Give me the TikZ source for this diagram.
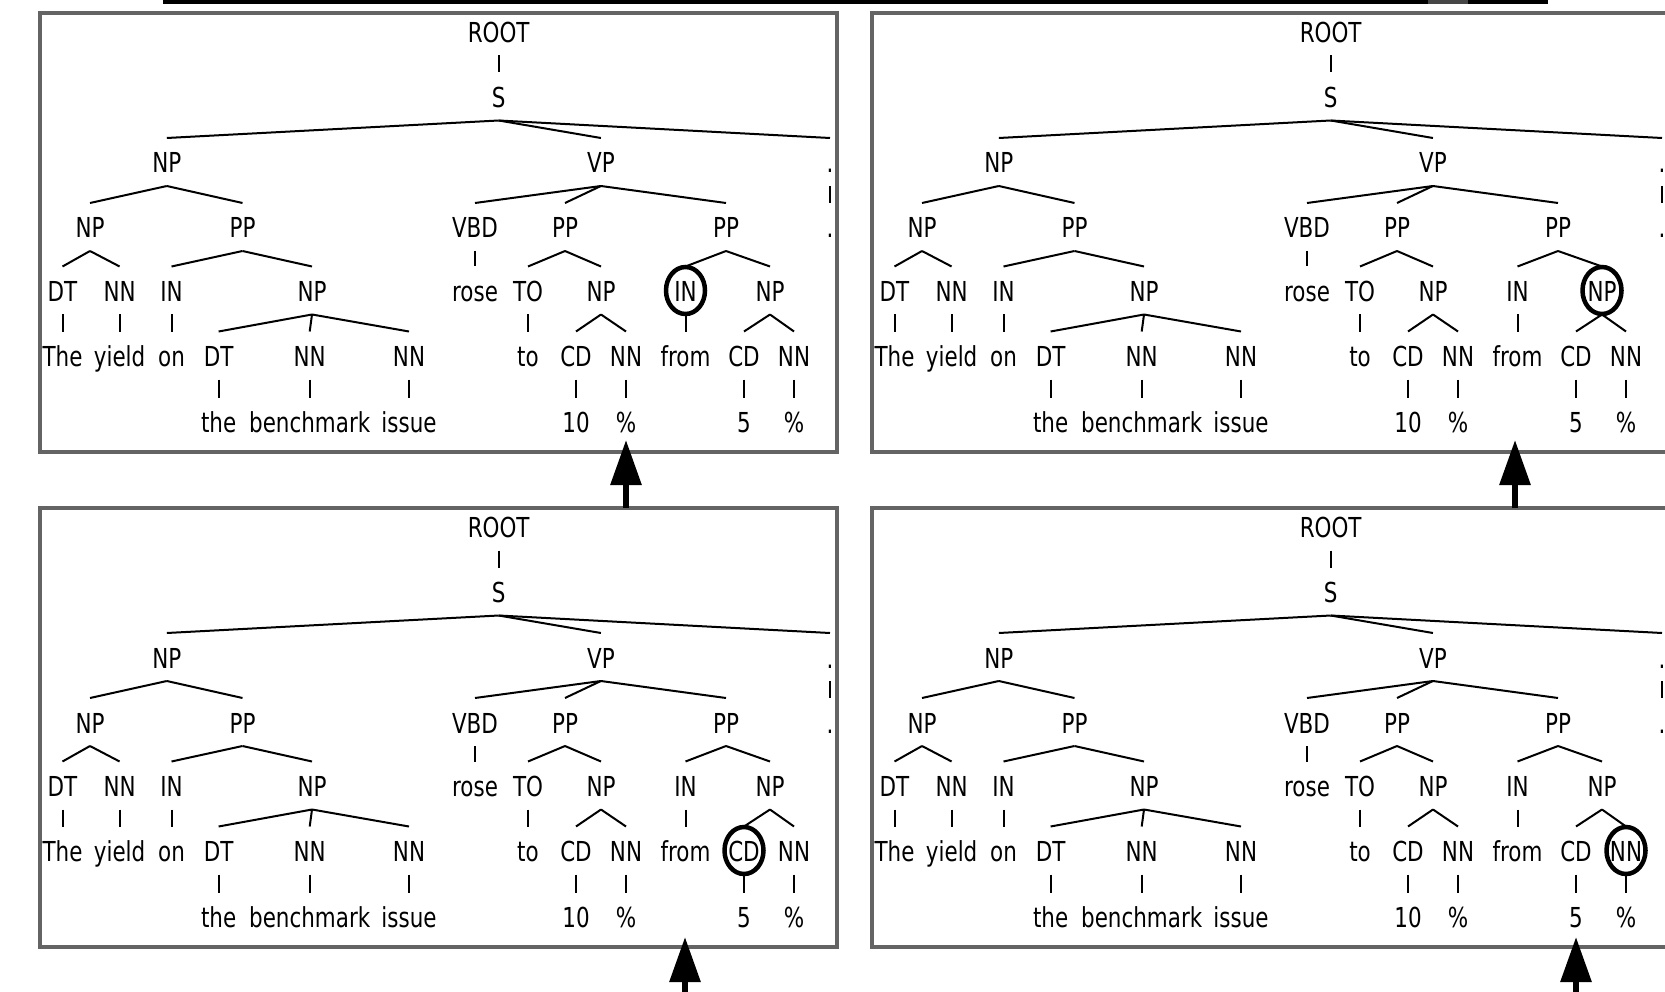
\documentclass[tikz,border=0pt]{standalone}
\usepackage{fontspec}
\newfontfamily\treefont[FakeStretch=0.78]{DejaVu Sans}
\usetikzlibrary{arrows.meta,shapes.geometric}
\definecolor{panelgray}{RGB}{100,100,100}
\definecolor{bargray}{RGB}{70,70,70}
\tikzset{
  lbl/.style={font=\treefont\fontsize{27.5}{30}\selectfont, anchor=base,
    inner xsep=0pt, inner ysep=0pt, outer xsep=0pt, outer ysep=13pt,
    text height=22pt, text depth=0pt},
  branch/.style={line width=2pt, black},
  panel/.style={line width=4pt, draw=panelgray},
  hl/.style={ellipse, draw=black, line width=4.5pt, inner sep=0pt,
    minimum width=39pt, minimum height=47pt},
  ptr/.style={line width=6pt, black, -{Triangle[width=30pt,length=45pt]}}
}
\newcommand\parsetree[1]{%
  \node[lbl] (#1root) at (498.7,42.5) {ROOT};
  \node[lbl] (#1s) at (498.7,107.5) {S};
  % level 2
  \node[lbl] (#1np) at (166.8,173) {NP};
  \node[lbl] (#1vp) at (600.9,173) {VP};
  \node[lbl] (#1dot) at (830,173) {.};
  % level 3
  \node[lbl] (#1npa) at (90,238) {NP};
  \node[lbl] (#1ppa) at (242.5,238) {PP};
  \node[lbl] (#1vbd) at (475,238) {VBD};
  \node[lbl] (#1ppb) at (565,238) {PP};
  \node[lbl] (#1ppc) at (726,238) {PP};
  \node[lbl] (#1dotw) at (830,238) {.};
  % level 4
  \node[lbl] (#1dta) at (62.5,301.5) {DT};
  \node[lbl] (#1nna) at (119.6,301.5) {NN};
  \node[lbl] (#1ina) at (171.5,301.5) {IN};
  \node[lbl] (#1npb) at (312,301.5) {NP};
  \node[lbl] (#1rose) at (475,301.5) {rose};
  \node[lbl] (#1to) at (528,301.5) {TO};
  \node[lbl] (#1npc) at (601,301.5) {NP};
  \node[lbl] (#1inb) at (685.5,301.5) {IN};
  \node[lbl] (#1npd) at (770,301.5) {NP};
  % level 5
  \node[lbl] (#1the) at (62.5,366.5) {The};
  \node[lbl] (#1yield) at (119.6,366.5) {yield};
  \node[lbl] (#1on) at (171.5,366.5) {on};
  \node[lbl] (#1dtb) at (218.6,366.5) {DT};
  \node[lbl] (#1nnb) at (309.7,366.5) {NN};
  \node[lbl] (#1nnc) at (409,366.5) {NN};
  \node[lbl] (#1tow) at (528,366.5) {to};
  \node[lbl] (#1cda) at (576,366.5) {CD};
  \node[lbl] (#1nnd) at (626,366.5) {NN};
  \node[lbl] (#1from) at (685.5,366.5) {from};
  \node[lbl] (#1cdb) at (744,366.5) {CD};
  \node[lbl] (#1nne) at (794,366.5) {NN};
  % level 6
  \node[lbl] (#1thew) at (218.6,432.5) {the};
  \node[lbl] (#1bench) at (309.7,432.5) {benchmark};
  \node[lbl] (#1issue) at (409,432.5) {issue};
  \node[lbl] (#1ten) at (576,432.5) {10};
  \node[lbl] (#1pca) at (626,432.5) {\%};
  \node[lbl] (#1five) at (744,432.5) {5};
  \node[lbl] (#1pcb) at (794,432.5) {\%};
  \foreach \a/\b in {root/s, s/np, s/vp, s/dot, dot/dotw, np/npa, np/ppa,
      vp/vbd, vp/ppb, vp/ppc, npa/dta, npa/nna, ppa/ina, ppa/npb, vbd/rose,
      ppb/to, ppb/npc, ppc/inb, ppc/npd, dta/the, nna/yield, ina/on,
      npb/dtb, npb/nnb, npb/nnc, to/tow, npc/cda, npc/nnd, inb/from,
      npd/cdb, npd/nne, dtb/thew, nnb/bench, nnc/issue, cda/ten, nnd/pca,
      cdb/five, nne/pcb}
    {\draw[branch] (#1\a.south) -- (#1\b.north);}
  \draw[panel] (40,13) rectangle (837,452);
}
\begin{document}
\begin{tikzpicture}[x=1pt,y=-1pt]
\useasboundingbox (0,0) rectangle (1665,992);
\fill[white] (0,0) rectangle (1665,992);
\clip (0,0) rectangle (1665,992);
% top bar
\fill[black] (163,0) rectangle (1548,4.5);
\fill[bargray] (1428,0) rectangle (1468,4.5);
% panels
\begin{scope}
  \parsetree{tl}
  \node[hl] (tlmark) at (tlinb.center) {};
\end{scope}
\begin{scope}[shift={(832,0)}]
  \parsetree{tr}
  \node[hl] (trmark) at (trnpd.center) {};
\end{scope}
\begin{scope}[shift={(0,495)}]
  \parsetree{bl}
  \node[hl] (blmark) at (blcdb.center) {};
\end{scope}
\begin{scope}[shift={(832,495)}]
  \parsetree{br}
  \node[hl] (brmark) at (brnne.center) {};
\end{scope}
% pointer arrows
\coordinate (p1s) at (626,508);  \coordinate (p1e) at (626,440);
\coordinate (p2s) at (1515,508); \coordinate (p2e) at (1515,440);
\coordinate (p3s) at (685,1000); \coordinate (p3e) at (685,937);
\coordinate (p4s) at (1576,1000); \coordinate (p4e) at (1576,937);
\draw[ptr] (p1s) -- (p1e);
\draw[ptr] (p2s) -- (p2e);
\draw[ptr] (p3s) -- (p3e);
\draw[ptr] (p4s) -- (p4e);
\end{tikzpicture}
\end{document}
